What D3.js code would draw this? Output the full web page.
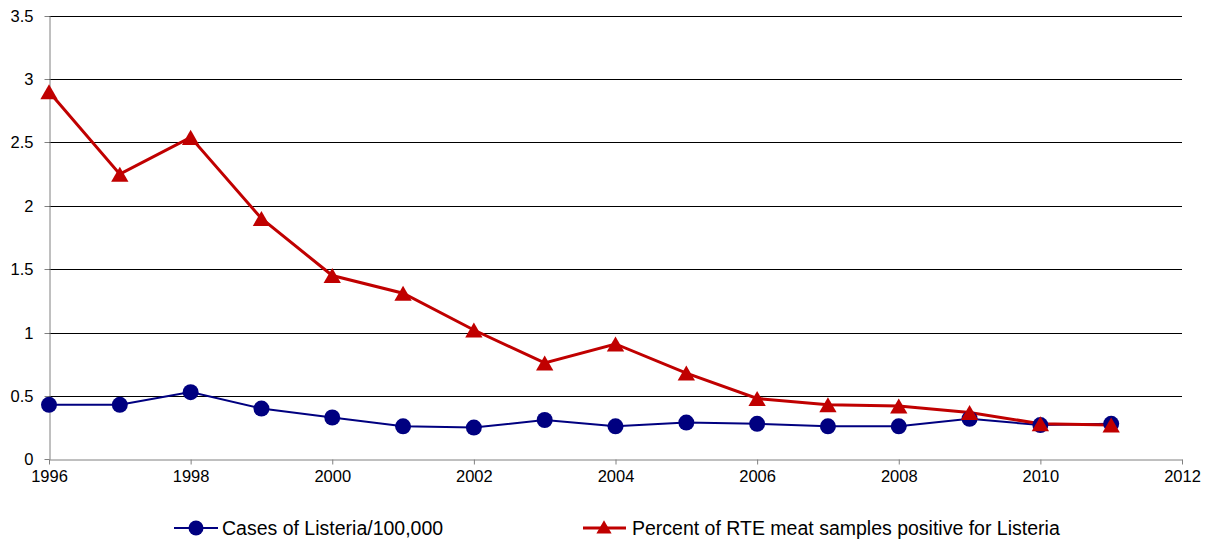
<!DOCTYPE html>
<html><head><meta charset="utf-8">
<script src="https://cdn.jsdelivr.net/npm/d3@7"></script>
<style>body{margin:0;background:#fff;} svg{display:block;font-family:Arial,"Liberation Sans",sans-serif;}</style>
</head><body><svg id="c" width="1211" height="541"></svg>
<script>
const years = [1996,1997,1998,1999,2000,2001,2002,2003,2004,2005,2006,2007,2008,2009,2010,2011];
const cases = [0.43,0.43,0.53,0.40,0.33,0.26,0.25,0.31,0.26,0.29,0.28,0.26,0.26,0.32,0.27,0.28];
const rte = [2.90,2.25,2.54,1.90,1.45,1.31,1.02,0.76,0.91,0.68,0.48,0.43,0.42,0.37,0.28,0.27];
const xTicks = [1996,1998,2000,2002,2004,2006,2008,2010,2012];
const yTicks = [0,0.5,1,1.5,2,2.5,3,3.5];
const seriesNames = ["Cases of Listeria/100,000","Percent of RTE meat samples positive for Listeria"];

const svg = d3.select("#c");
const x = d3.scaleLinear().domain([1996,2012]).range([49,1182]);
const y = d3.scaleLinear().domain([0,3.5]).range([459.3,15.7]);

svg.append("g").selectAll("line").data(yTicks.filter(d=>d>0)).join("line")
  .attr("x1",x(1996)).attr("x2",x(2012)).attr("y1",d=>Math.round(y(d))+0.5).attr("y2",d=>Math.round(y(d))+0.5)
  .attr("stroke","#000").attr("stroke-width",1);

const yAxis = svg.append("g").attr("transform",`translate(${Math.round(x(1996))+0.5},0)`)
  .call(d3.axisLeft(y).tickValues(yTicks).tickFormat(d3.format("~g")).tickSize(5).tickSizeOuter(0).tickPadding(11));
yAxis.select(".domain").attr("stroke","#808080");
yAxis.selectAll(".tick line").attr("stroke","#808080");
yAxis.selectAll("text").attr("font-size","16.5px").attr("fill","#000").attr("font-family","Arial, 'Liberation Sans', sans-serif");
yAxis.selectAll(".tick").attr("transform",d=>`translate(0,${Math.round(y(d))+0.5})`);

const xAxis = svg.append("g").attr("transform",`translate(0,${Math.round(y(0))+0.5})`)
  .call(d3.axisBottom(x).tickValues(xTicks).tickFormat(d3.format("d")).tickSize(5).tickSizeOuter(0).tickPadding(6));
xAxis.select(".domain").attr("stroke","#808080");
xAxis.selectAll(".tick line").attr("stroke","#808080");
xAxis.selectAll("text").attr("font-size","16.5px").attr("fill","#000").attr("font-family","Arial, 'Liberation Sans', sans-serif");

const line = d3.line().x((d,i)=>x(years[i])).y(d=>y(d));
const triSize = 130;
const tri = d3.symbol().type(d3.symbolTriangle).size(triSize);
const triOff = Math.sqrt(triSize/(Math.sqrt(3)*3))/2; // center bounding box on point

svg.append("path").datum(cases).attr("d",line).attr("fill","none").attr("stroke","#000080").attr("stroke-width",2);
svg.append("path").datum(rte).attr("d",line).attr("fill","none").attr("stroke","#C00000").attr("stroke-width",3);

svg.append("g").selectAll("circle").data(cases).join("circle")
  .attr("cx",(d,i)=>x(years[i])).attr("cy",d=>y(d)).attr("r",8).attr("fill","#000080");
svg.append("g").selectAll("path").data(rte).join("path")
  .attr("d",tri).attr("transform",(d,i)=>`translate(${x(years[i])},${y(d)+triOff})`).attr("fill","#C00000");

const ly = 528;
const lg = svg.append("g");
lg.append("line").attr("x1",174).attr("x2",218).attr("y1",ly).attr("y2",ly).attr("stroke","#000080").attr("stroke-width",2);
lg.append("circle").attr("cx",196).attr("cy",ly).attr("r",7.5).attr("fill","#000080");
lg.append("text").attr("x",222).attr("y",ly+7).attr("font-size","19.5px").text(seriesNames[0]);
lg.append("line").attr("x1",583).attr("x2",626).attr("y1",ly).attr("y2",ly).attr("stroke","#C00000").attr("stroke-width",3);
lg.append("path").attr("d",d3.symbol().type(d3.symbolTriangle).size(100)).attr("transform",`translate(604,${ly+1})`).attr("fill","#C00000");
lg.append("text").attr("x",632).attr("y",ly+7).attr("font-size","19.5px").text(seriesNames[1]);
</script></body></html>
